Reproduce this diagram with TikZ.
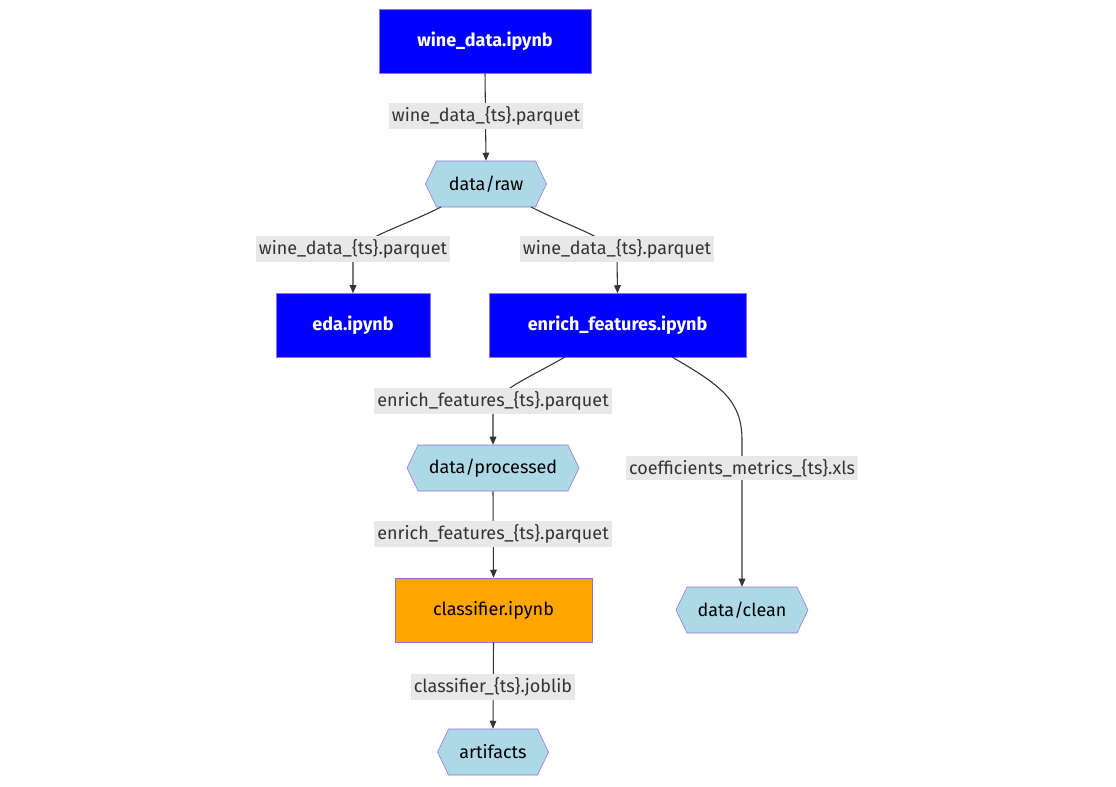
\documentclass[tikz,border=0pt]{standalone}
\usepackage{fontspec}
\setmainfont{Fira Sans}
\usetikzlibrary{arrows.meta}
\definecolor{bord}{RGB}{147,112,219}
\definecolor{lb}{RGB}{173,216,230}
\definecolor{lbl}{RGB}{232,232,232}
\definecolor{ln}{RGB}{51,51,51}
\definecolor{org}{RGB}{255,165,0}
\begin{document}
\begin{tikzpicture}[x=0.75pt,y=-0.75pt,
  nb/.style={draw=bord,fill=blue,text=white,font=\bfseries\fontsize{13.5}{16}\selectfont,minimum height=48pt,inner sep=0},
  no/.style={draw=bord,fill=org,text=black,font=\fontsize{13.5}{16}\selectfont,minimum height=48pt,inner sep=0},
  hx/.style={draw=none,font=\fontsize{13.5}{16}\selectfont,minimum height=34.5pt,inner sep=0},
  lab/.style={fill=lbl,text=ln,font=\fontsize{13.5}{16}\selectfont,inner sep=2.5pt},
  edge/.style={draw=ln,line width=0.8pt,-{Triangle[length=6pt,width=5pt]}}]
\useasboundingbox (0,0) rectangle (1116,786);
\newcommand{\hexnode}[5]{%
  \fill[lb,draw=bord] (#2-#4/2,#3) -- (#2-#4/2+11,#3-23) -- (#2+#4/2-11,#3-23) -- (#2+#4/2,#3) -- (#2+#4/2-11,#3+23) -- (#2-#4/2+11,#3+23) -- cycle;
  \node[hx,minimum width=#4*0.75pt] (#1) at (#2,#3) {#5};}
\node[nb,minimum width=159pt] (wd) at (485,41) {wine\_data.ipynb};
\hexnode{raw}{486}{184}{121}{data/raw}
\node[nb,minimum width=115.5pt] (eda) at (353,325.5) {eda.ipynb};
\node[nb,minimum width=193pt] (ef) at (617.5,325.5) {enrich\_features.ipynb};
\hexnode{proc}{493}{468}{172}{data/processed}
\node[no,minimum width=148pt] (cl) at (493.5,610) {classifier.ipynb};
\hexnode{clean}{742}{610}{132}{data/clean}
\hexnode{art}{493}{752}{111}{artifacts}
% edges
\draw[edge] (wd.south) -- (raw.north);
\draw[edge] (441,207) .. controls (400,228) and (353,240) .. (353,258) -- (eda.north);
\draw[edge] (531,207) .. controls (572,228) and (617,240) .. (617,258) -- (ef.north);
\draw[edge] (565,357) .. controls (525,380) and (493,392) .. (493,410) -- (proc.north);
\draw[edge] (672,357) .. controls (720,385) and (742,400) .. (742,440) -- (clean.north);
\draw[edge] (proc.south) -- (cl.north);
\draw[edge] (cl.south) -- (art.north);
% labels
\node[lab] (l1) at (486,116) {wine\_data\_\{ts\}.parquet};
\node[lab] (l2) at (353,249) {wine\_data\_\{ts\}.parquet};
\node[lab] (l3) at (617,249) {wine\_data\_\{ts\}.parquet};
\node[lab] (l4) at (493,401) {enrich\_features\_\{ts\}.parquet};
\node[lab] (l5) at (742,468) {coefficients\_metrics\_\{ts\}.xls};
\node[lab] (l6) at (493,534) {enrich\_features\_\{ts\}.parquet};
\node[lab] (l7) at (493,687) {classifier\_\{ts\}.joblib};
\end{tikzpicture}
\end{document}
